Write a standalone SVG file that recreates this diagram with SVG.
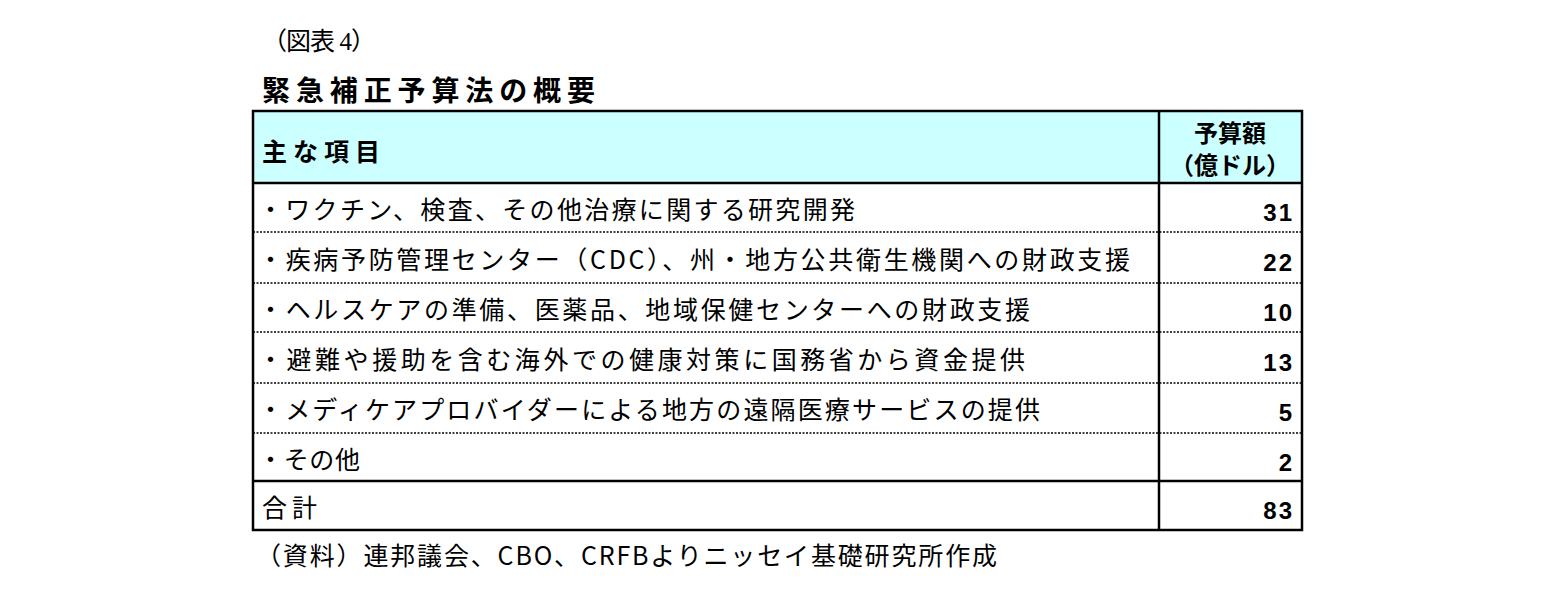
<svg xmlns="http://www.w3.org/2000/svg" width="1542" height="592" viewBox="0 0 1542 592">
<style>
text{font-family:"Noto Sans CJK JP","Liberation Sans",sans-serif;fill:#000}
.t{font-size:25px}
.n{font-size:24px;font-weight:bold;text-anchor:end;font-family:"Liberation Sans",sans-serif;letter-spacing:2px}
.dot{stroke:#000;stroke-width:1.5;stroke-dasharray:2,1.5}
.sol{stroke:#000;stroke-width:2.5}
</style>
<rect width="1542" height="592" fill="#fff"/>
<text x="262" y="50" textLength="114" lengthAdjust="spacing" style="font-family:'Liberation Serif','Noto Sans CJK JP',serif;font-size:25px">（図表 4）</text>
<text x="262" y="101" textLength="333" lengthAdjust="spacing" style="font-size:28px;font-weight:bold">緊急補正予算法の概要</text>
<g id="table">
<rect x="253" y="111" width="1049" height="72" fill="#CCFFFF"/>
<g id="connectors">
<line class="dot" x1="253" y1="232" x2="1302" y2="232"/>
<line class="dot" x1="253" y1="283" x2="1302" y2="283"/>
<line class="dot" x1="253" y1="332" x2="1302" y2="332"/>
<line class="dot" x1="253" y1="383" x2="1302" y2="383"/>
<line class="dot" x1="253" y1="433" x2="1302" y2="433"/>
<line class="sol" x1="253" y1="183" x2="1302" y2="183"/>
<line class="sol" x1="253" y1="481" x2="1302" y2="481"/>
<line class="sol" x1="1159" y1="111" x2="1159" y2="530"/>
<rect x="253" y="111" width="1049" height="419" fill="none" stroke="#000" stroke-width="2.5"/>
</g>
<text class="t" x="262" y="161" textLength="118" lengthAdjust="spacing" font-weight="bold">主な項目</text>
<text x="1230" y="142" text-anchor="middle" style="font-size:24px;font-weight:bold">予算額</text>
<text x="1230" y="174" text-anchor="middle" style="font-size:24px;font-weight:bold">（億ドル）</text>
<text class="t" x="258" y="219" textLength="597" lengthAdjust="spacing">・ワクチン、検査、その他治療に関する研究開発</text>
<text class="t" x="258" y="269" textLength="872" lengthAdjust="spacing">・疾病予防管理センター（CDC）、州・地方公共衛生機関への財政支援</text>
<text class="t" x="258" y="319" textLength="772" lengthAdjust="spacing">・ヘルスケアの準備、医薬品、地域保健センターへの財政支援</text>
<text class="t" x="258" y="369" textLength="767" lengthAdjust="spacing">・避難や援助を含む海外での健康対策に国務省から資金提供</text>
<text class="t" x="258" y="419" textLength="782" lengthAdjust="spacing">・メディケアプロバイダーによる地方の遠隔医療サービスの提供</text>
<text class="t" x="258" y="469" textLength="102" lengthAdjust="spacing">・その他</text>
<text class="t" x="262" y="517" textLength="55" lengthAdjust="spacing">合計</text>
<text class="n" x="1294" y="221">31</text>
<text class="n" x="1294" y="271">22</text>
<text class="n" x="1294" y="321">10</text>
<text class="n" x="1294" y="371">13</text>
<text class="n" x="1294" y="421">5</text>
<text class="n" x="1294" y="471">2</text>
<text class="n" x="1294" y="519">83</text>
</g>
<text class="t" x="256" y="565" textLength="741" lengthAdjust="spacing">（資料）連邦議会、CBO、CRFBよりニッセイ基礎研究所作成</text>
</svg>
